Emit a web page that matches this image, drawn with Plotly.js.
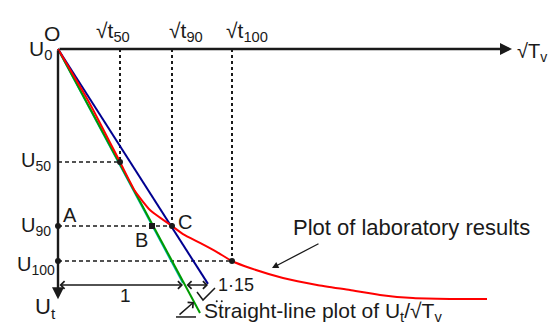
<!DOCTYPE html>
<html>
<head>
<meta charset="utf-8">
<script src="https://cdn.plot.ly/plotly-3.0.1.min.js"></script>
<style>html,body{margin:0;padding:0;background:#fff;}#chart{width:557px;height:327px;}</style>
</head>
<body>
<div id="chart"></div>
<script>
// Diagram units: x = root time (1 unit = "1" on the scale), y = degree of consolidation level (U100 = 1, downward)
const labCurveX = [0, 0.256, 0.496, 0.616, 0.736, 0.912, 1.0, 1.136, 1.272, 1.392, 1.536, 1.8, 2.072, 2.336, 2.576, 2.84, 3.136, 3.432];
const labCurveY = [0, 0.259, 0.533, 0.670, 0.759, 0.835, 0.873, 0.915, 0.958, 1.0, 1.033, 1.080, 1.113, 1.137, 1.160, 1.175, 1.179, 1.179];
const straightX = [0, 1.136];
const straightY = [0, 1.245];
const initialX = [0, 1.0];
const initialY = [0, 1.104];
const scaledX = [0, 1.2];
const scaledY = [0, 1.108];
const levelU = [0.533, 0.835, 1.0];
const levelT = [0.496, 0.912, 1.392];
const pointB = [0.752, 0.835];
const baseArrowY = 1.113;
const baseOne = [0, 1.0];
const baseExtra = [1.016, 1.2];
const axisXEnd = 3.632;
const axisYEnd = 1.18;
const tickMarkX = [1.112, 1.16, 1.256];
const tickMarkY = [1.146, 1.184, 1.127];

const F = 'Arial, "Liberation Sans", sans-serif';
const black = '#1a1a1a';

const traces = [];
for (let i = 0; i < levelU.length; i++) {
  traces.push({x: [levelT[i], levelT[i]], y: [0, levelU[i]], mode: 'lines', line: {color: black, width: 2, dash: 'dot'}, hoverinfo: 'skip'});
  traces.push({x: [0, levelT[i]], y: [levelU[i], levelU[i]], mode: 'lines', line: {color: black, width: 1.5, dash: '4px,3px'}, hoverinfo: 'skip'});
}
traces.push({x: initialX, y: initialY, mode: 'lines', line: {color: '#00b3b3', width: 2}});
traces.push({x: straightX, y: straightY, mode: 'lines', line: {color: '#009a00', width: 2}});
traces.push({x: scaledX, y: scaledY, mode: 'lines', line: {color: '#000090', width: 2}});
traces.push({x: labCurveX, y: labCurveY, mode: 'lines', line: {color: '#ff0000', width: 2, shape: 'spline', smoothing: 0.5}});
traces.push({x: [0, 0, levelT[0], levelT[1], levelT[2]], y: [levelU[1], levelU[2], levelU[0], levelU[1], levelU[2]], mode: 'markers', marker: {color: black, size: 6}});
traces.push({x: [pointB[0]], y: [pointB[1]], mode: 'markers', marker: {color: black, size: 6, symbol: 'square'}});
traces.push({x: tickMarkX, y: tickMarkY, mode: 'lines', line: {color: black, width: 1.5}});
traces.push({x: [1.27, 1.31], y: [1.19, 1.19], mode: 'markers', marker: {color: black, size: 2}});

function txt(x, y, text, size, xanchor) {
  return {x: x, y: y, xref: 'x', yref: 'y', text: text, showarrow: false, font: {family: F, size: size, color: black}, xanchor: xanchor || 'center', yanchor: 'middle'};
}
function arr(x0, y0, x1, y1, head, side, w) {
  return {x: x1, y: y1, ax: x0, ay: y0, xref: 'x', yref: 'y', axref: 'x', ayref: 'y', text: '', showarrow: true,
    arrowhead: head, arrowside: side || 'end', arrowwidth: w || 1.5, arrowsize: 1, arrowcolor: black};
}

const annotations = [
  arr(0, 0, axisXEnd, 0, 2, 'end', 2.4),
  arr(0, 0, 0, axisYEnd, 2, 'end', 2.4),
  arr(baseOne[0], baseArrowY, baseOne[1], baseArrowY, 4, 'end+start', 1.5),
  arr(baseExtra[0], baseArrowY, baseExtra[1], baseArrowY, 4, 'end+start', 1.5),
  arr(2.096, 0.915, 1.712, 1.033, 2, 'end', 1.3),
  arr(0.96, 1.259, 1.088, 1.193, 4, 'end', 1.5),
  txt(-0.03, 0.005, 'U<sub>0</sub>', 21, 'right'),
  txt(-0.048, -0.075, 'O', 21),
  txt(levelT[0] - 0.06, -0.08, '√t<sub>50</sub>', 21),
  txt(levelT[1] + 0.11, -0.08, '√t<sub>90</sub>', 21),
  txt(levelT[2] + 0.12, -0.08, '√t<sub>100</sub>', 21),
  txt(3.656, 0.015, '√T<sub>v</sub>', 20, 'left'),
  txt(-0.04, levelU[0], 'U<sub>50</sub>', 20, 'right'),
  txt(-0.04, levelU[1], 'U<sub>90</sub>', 20, 'right'),
  txt(-0.01, 1.019, 'U<sub>100</sub>', 20, 'right'),
  txt(0.096, 0.783, 'A', 20),
  txt(0.664, 0.901, 'B', 20),
  txt(1.016, 0.816, 'C', 20),
  txt(0.536, 1.165, '1', 19),
  txt(1.42, 1.115, '1·15', 18),
  txt(-0.104, 1.222, 'U<sub>t</sub>', 22),
  txt(1.86, 0.844, 'Plot of laboratory results', 22, 'left'),
  txt(1.15, 1.24, 'Straight-line plot of U<sub>t</sub>/√T<sub>v</sub>', 21, 'left')
];

const shapes = [
  {type: 'line', xref: 'x', yref: 'y', x0: 0.944, y0: 1.264, x1: 1.104, y1: 1.264, line: {color: black, width: 1.5}}
];

const layout = {
  width: 557, height: 327,
  margin: {l: 0, r: 0, t: 0, b: 0},
  paper_bgcolor: '#fff', plot_bgcolor: '#fff',
  showlegend: false,
  xaxis: {range: [-0.464, 3.992], visible: false, fixedrange: true},
  yaxis: {range: [1.3113, -0.2311], visible: false, fixedrange: true},
  annotations: annotations,
  shapes: shapes
};

Plotly.newPlot('chart', traces, layout, {staticPlot: true, displayModeBar: false});
</script>
</body>
</html>
